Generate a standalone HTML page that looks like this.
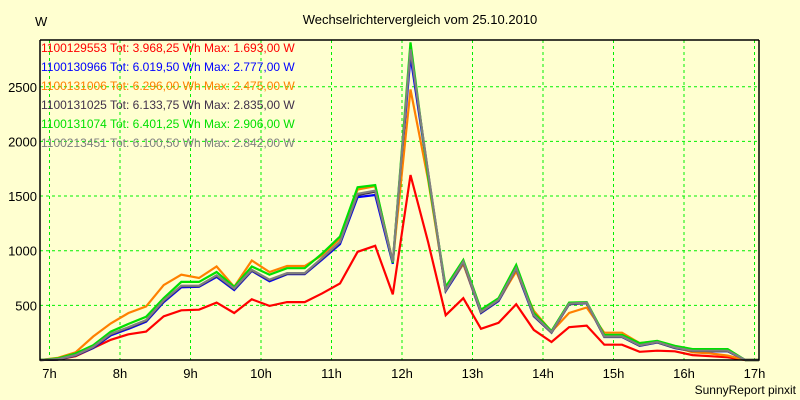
<!DOCTYPE html>
<html><head><meta charset="utf-8"><style>
html,body{margin:0;padding:0;background:#ffffd0;}
svg{display:block;font-family:"Liberation Sans",sans-serif;}
</style></head><body>
<svg id="chart" width="800" height="400">
<rect x="0" y="0" width="800" height="400" fill="#ffffd0"/>
<text x="420" y="24" font-size="13" text-anchor="middle" fill="#000">Wechselrichtervergleich vom 25.10.2010</text>
<text x="35" y="26" font-size="13" fill="#000">W</text>
<text x="796" y="394" font-size="12" text-anchor="end" fill="#000">SunnyReport pinxit</text>
<g id="grid"></g>
<g id="series"></g>
<g id="axes"></g>
<g id="legend"></g>
</svg>
<script>
const hourTicks = [7,8,9,10,11,12,13,14,15,16,17];
const yTicks = [500,1000,1500,2000,2500];
const seriesNames = ["1100129553 Tot: 3.968,25 Wh Max: 1.693,00 W","1100130966 Tot: 6.019,50 Wh Max: 2.777,00 W","1100131006 Tot: 6.296,00 Wh Max: 2.475,00 W","1100131025 Tot: 6.133,75 Wh Max: 2.835,00 W","1100131074 Tot: 6.401,25 Wh Max: 2.906,00 W","1100213451 Tot: 6.100,50 Wh Max: 2.842,00 W"];
const seriesColors = ["#ff0000","#0000ff","#ff8000","#40304a","#00e000","#808080"];
const startHour = 6.87;
const stepHour = 0.25;
const red = [0,5,35,110,185,235,260,400,455,460,525,430,555,495,530,530,610,700,990,1045,600,1693,1080,410,565,285,340,510,275,165,300,315,140,140,75,85,80,45,35,25,0,0];
const blue = [0,5,40,110,225,285,350,530,665,670,760,640,815,720,785,785,920,1060,1490,1510,880,2777,1700,630,880,430,540,820,400,250,510,520,210,210,130,160,110,80,80,80,0,0];
const orange = [0,20,70,215,335,430,490,685,780,750,855,670,910,805,860,860,960,1110,1560,1590,900,2475,1650,650,880,440,550,810,450,260,430,480,250,250,155,170,120,70,60,40,0,0];
const purple = [0,5,42,115,235,295,360,540,675,675,770,650,820,730,790,790,930,1075,1510,1540,895,2835,1715,635,895,435,545,835,405,252,512,522,212,212,132,162,112,82,82,82,0,0];
const green = [0,15,60,135,260,330,395,565,715,715,805,670,855,780,840,840,975,1130,1580,1600,890,2906,1675,670,915,460,565,870,430,265,525,530,230,230,155,175,130,100,100,100,0,0];
const grey = [0,8,45,120,240,300,365,545,680,680,775,655,825,735,795,795,935,1080,1520,1550,900,2842,1720,640,900,440,550,840,410,255,515,525,215,215,135,165,115,85,85,85,0,0];
const allSeries = [red,blue,orange,purple,green,grey];

const NS="http://www.w3.org/2000/svg";
const L=40,R=759,T=40,B=360;
const xOf=h=>49.5+(h-7)*70.5;
const yOf=v=>B-v*0.1093;
function mk(tag,attrs,parent){const e=document.createElementNS(NS,tag);for(const k in attrs)e.setAttribute(k,attrs[k]);parent.appendChild(e);return e;}
const grid=document.getElementById('grid'),axes=document.getElementById('axes'),ser=document.getElementById('series'),leg=document.getElementById('legend');
hourTicks.forEach(h=>{
  const x=xOf(h);
  const gl=mk('line',{x1:x,x2:x,y1:T,y2:B,stroke:'#00f000','stroke-dasharray':'3,3','stroke-width':1},grid);
  
  
  const t=mk('text',{x:x,y:378,'font-size':13,'text-anchor':'middle',fill:'#000'},axes);
  t.textContent=h+'h';
  
  
});
yTicks.forEach(v=>{
  const y=yOf(v);
  const gl=mk('line',{x1:L,x2:R,y1:y,y2:y,stroke:'#00f000','stroke-dasharray':'3,3','stroke-width':1},grid);
  
  
  const t=mk('text',{x:37,y:y+5,'font-size':13,'text-anchor':'end',fill:'#000'},axes);
  t.textContent=v;
  
  
});
const frame=mk('polyline',{points:`${L},${T} ${L},${B} ${R},${B} ${R},${T}`,fill:'none',stroke:'#000','stroke-width':1.5},axes);


const topl=mk('line',{x1:L,x2:R,y1:T,y2:T,stroke:'#000','stroke-width':1.5},axes);


allSeries.forEach((vals,i)=>{
  const pts=vals.map((v,k)=>`${Math.min(xOf(startHour+k*stepHour),R).toFixed(1)},${yOf(v).toFixed(1)}`).join(' ');
  const p=mk('polyline',{points:pts,fill:'none',stroke:seriesColors[i],'stroke-width':2.2,'stroke-linejoin':'miter'},ser);
  
  
});
seriesNames.forEach((n,i)=>{
  const t=mk('text',{x:41,y:52+i*19,'font-size':12,fill:seriesColors[i]},leg);
  t.textContent=n;
  
  
});
</script>
</body></html>
